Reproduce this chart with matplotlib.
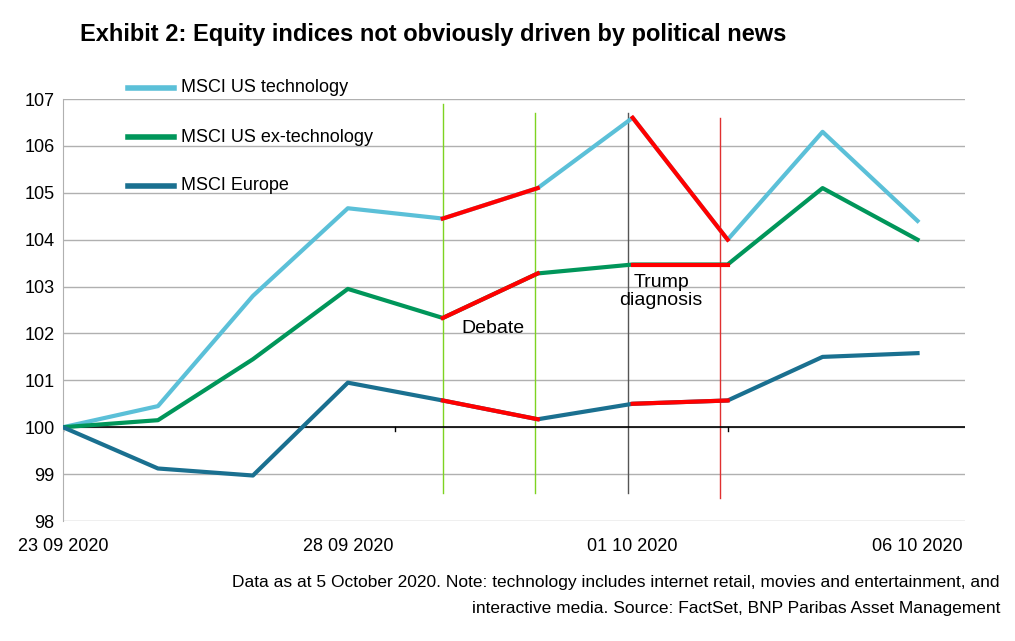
import matplotlib.pyplot as plt

plt.rcParams['font.family'] = ['Liberation Sans', 'DejaVu Sans']

x = list(range(10))
tech = [100, 100.45, 102.8, 104.67, 104.45, 105.1, 106.6, 104.0, 106.3, 104.4]
extech = [100, 100.15, 101.45, 102.95, 102.33, 103.28, 103.47, 103.47, 105.1, 104.0]
europe = [100, 99.12, 98.97, 100.95, 100.57, 100.17, 100.5, 100.57, 101.5, 101.58]
names = ['MSCI US technology', 'MSCI US ex-technology', 'MSCI Europe']
colors = ['#5bc0d8', '#00965a', '#1a7090']
red_spans = [(4, 5), (6, 7)]
tick_pos = [0, 3, 6, 9]
tick_lab = ['23 09 2020', '28 09 2020', '01 10 2020', '06 10 2020']
# event lines: x, y0, y1, colour
events = [(4, 98.6, 106.9, '#7ed321'), (4.97, 98.6, 106.7, '#7ed321'),
          (5.95, 98.6, 106.7, '#555555'), (6.92, 98.5, 106.6, '#e03030')]

fig = plt.figure(figsize=(10.15, 6.41), dpi=100)
ax = fig.add_axes([63/1015, 1-521/641, (965-63)/1015, (521-99)/641])

for ex, y0, y1, c in events:
    ax.plot([ex, ex], [y0, y1], color=c, lw=1.0, zorder=2)

for s, c in zip([tech, extech, europe], colors):
    ax.plot(x, s, color=c, lw=3, zorder=3)
    for a, b in red_spans:
        ax.plot(x[a:b+1], s[a:b+1], color='red', lw=3, zorder=4)

ax.axhline(100, color='black', lw=1.2, zorder=2)
for t in [0, 3.5, 7]:
    ax.plot([t, t], [99.93, 100.0], color='black', lw=1, zorder=2)

ax.set_xlim(0, 9.5)
ax.set_ylim(98, 107)
ax.set_yticks(range(98, 108))
ax.set_xticks(tick_pos)
ax.set_xticklabels(tick_lab)
ax.tick_params(labelsize=13, length=0, pad=12)
ax.tick_params(axis='y', pad=6)
ax.grid(axis='y', color='#b0b0b0', lw=1)
for sp in ['top', 'right', 'bottom']:
    ax.spines[sp].set_visible(False)
ax.spines['left'].set_color('#b0b0b0')
ax.set_axisbelow(True)

ax.text(4.2, 102.0, 'Debate', fontsize=14)
ax.text(6.3, 102.9, 'Trump\ndiagnosis', fontsize=14, ha='center', va='center',
        linespacing=1.1)

# legend
leg_y = [88, 137, 186]
for n, c, py in zip(names, colors, leg_y):
    fy = 1 - py/641
    fig.add_artist(plt.Line2D([128/1015, 174/1015], [fy, fy], color=c, lw=4))
    fig.text(181/1015, fy, n, fontsize=13, va='center')

fig.text(80/1015, 1-35/641, 'Exhibit 2: Equity indices not obviously driven by political news',
         fontsize=17, fontweight='bold', va='center')
fig.text(1000/1015, 1-582/641, 'Data as at 5 October 2020. Note: technology includes internet retail, movies and entertainment, and',
         fontsize=12.5, ha='right', va='center')
fig.text(1000/1015, 1-608/641, 'interactive media. Source: FactSet, BNP Paribas Asset Management',
         fontsize=12.5, ha='right', va='center')

fig.savefig('out.png', dpi=100)
